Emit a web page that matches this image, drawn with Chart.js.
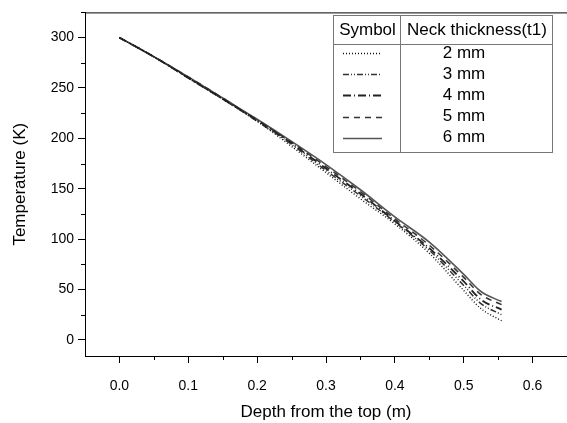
<!DOCTYPE html>
<html>
<head>
<meta charset="utf-8">
<script src="https://cdn.jsdelivr.net/npm/chart.js@4/dist/chart.umd.min.js"></script>
<style>
  html, body { margin: 0; padding: 0; background: #fff; }
  #wrap { width: 567px; height: 423px; }
</style>
</head>
<body>
<div id="wrap"><canvas id="grafico-temperatura"></canvas></div>
<script>
// Dados: profundidade (m) e temperatura (K) para cada espessura do pescoço
const profundidade = [0, 0.05, 0.1, 0.15, 0.2, 0.25, 0.3, 0.35, 0.4, 0.45, 0.5, 0.525, 0.555];
const temp_2mm = [300, 281, 260, 239, 217, 192, 166, 140, 115, 86, 49, 31, 19];
const temp_3mm = [300, 281, 260, 239, 217, 194, 168, 143, 117, 89, 54, 36, 25];
const temp_4mm = [300, 281, 260, 239, 218, 195, 170, 145, 118, 91, 58, 40, 30];
const temp_5mm = [300, 281, 261, 240, 218, 196, 172, 147, 120, 94, 62, 45, 35];
const temp_6mm = [300, 281, 261, 240, 219, 197, 174, 149, 122, 97, 65, 48, 38];

const legendas = ['2 mm', '3 mm', '4 mm', '5 mm', '6 mm'];
const x_ticks = [0, 0.1, 0.2, 0.3, 0.4, 0.5, 0.6];
const x_minor = [0.05, 0.15, 0.25, 0.35, 0.45, 0.55, 0.65];
const y_ticks = [0, 50, 100, 150, 200, 250, 300];
const y_minor = [25, 75, 125, 175, 225, 275, 325];

// estilos das linhas
const estilos = [
    { cor: '#111', dash: [1, 2], largura: 1.4 },
    { cor: '#333', dash: [6, 2, 1, 2, 1, 2], largura: 1.5 },
    { cor: '#222', dash: [8, 3, 1, 3], largura: 1.8 },
    { cor: '#333', dash: [6, 5], largura: 1.5 },
    { cor: '#555', dash: [], largura: 1.6 }
];

const series = [temp_2mm, temp_3mm, temp_4mm, temp_5mm, temp_6mm];

const datasets = series.map(function(valores, i) {
    return {
        label: legendas[i],
        data: profundidade.map(function(x, j) { return { x: x, y: valores[j] }; }),
        borderColor: estilos[i].cor,
        borderDash: estilos[i].dash,
        borderWidth: estilos[i].largura,
        pointRadius: 0,
        fill: false,
        cubicInterpolationMode: 'monotone'
    };
});

const fonte = "Arial, 'Liberation Sans', sans-serif";

// Ticks menores, moldura superior e tabela de legenda
const plugin_extra = {
    id: 'extra',
    afterDraw: function(chart) {
        const ctx = chart.ctx;
        const area = chart.chartArea;
        const xs = chart.scales.x;
        const ys = chart.scales.y;
        ctx.save();
        ctx.strokeStyle = '#000';
        ctx.lineWidth = 1;
        ctx.setLineDash([]);
        // moldura superior
        ctx.beginPath();
        ctx.moveTo(area.left, area.top + 0.5);
        ctx.lineTo(area.right, area.top + 0.5);
        ctx.stroke();
        // ticks menores
        ctx.beginPath();
        x_minor.forEach(function(v) {
            const px = Math.round(xs.getPixelForValue(v)) + 0.5;
            if (px > area.right) return;
            ctx.moveTo(px, area.bottom);
            ctx.lineTo(px, area.bottom + 4);
        });
        y_minor.forEach(function(v) {
            const py = Math.round(ys.getPixelForValue(v)) + 0.5;
            if (py < area.top) return;
            ctx.moveTo(area.left, py);
            ctx.lineTo(area.left - 4, py);
        });
        ctx.stroke();

        // tabela de legenda
        const L = 333, R = 552, T = 15, B = 152, D = 400, H = 44;
        ctx.fillStyle = '#fff';
        ctx.fillRect(L, T, R - L, B - T);
        ctx.strokeStyle = '#777';
        ctx.strokeRect(L + 0.5, T + 0.5, R - L, B - T);
        ctx.beginPath();
        ctx.moveTo(L, H + 0.5); ctx.lineTo(R, H + 0.5);
        ctx.moveTo(D + 0.5, T); ctx.lineTo(D + 0.5, B);
        ctx.stroke();

        ctx.fillStyle = '#000';
        ctx.font = '17px ' + fonte;
        ctx.textBaseline = 'middle';
        ctx.textAlign = 'center';
        ctx.fillText('Symbol', (L + D) / 2 + 1, 30);
        ctx.fillText('Neck thickness(t1)', (D + R) / 2 + 1, 30);

        chart.data.datasets.forEach(function(ds, i) {
            const yy = 53 + i * 21.2;
            ctx.save();
            ctx.strokeStyle = ds.borderColor;
            ctx.lineWidth = ds.borderWidth;
            ctx.setLineDash(ds.borderDash);
            ctx.beginPath();
            ctx.moveTo(343, Math.round(yy) + 0.5);
            ctx.lineTo(382, Math.round(yy) + 0.5);
            ctx.stroke();
            ctx.restore();
            ctx.fillText(ds.label, 464, yy);
        });
        ctx.restore();
    }
};

const ctx_temp = document.getElementById('grafico-temperatura').getContext('2d');

const grafico_temp = new Chart(ctx_temp, {
    type: 'line',
    data: { datasets: datasets },
    options: {
        responsive: true,
        maintainAspectRatio: false,
        animation: false,
        layout: { padding: { top: 7, right: 0, left: 0, bottom: 0 } },
        plugins: {
            legend: { display: false },
            tooltip: { enabled: false }
        },
        scales: {
            x: {
                type: 'linear',
                min: -0.05,
                max: 0.65,
                afterFit: function(scale) { scale.height = 67; },
                afterBuildTicks: function(scale) {
                    scale.ticks = x_ticks.map(function(v) { return { value: v }; });
                },
                ticks: {
                    color: '#000',
                    font: { size: 14, family: fonte },
                    padding: 15,
                    maxRotation: 0,
                    callback: function(v) { return Number(v).toFixed(1); }
                },
                grid: {
                    drawOnChartArea: false,
                    drawTicks: true,
                    tickLength: 7,
                    tickColor: '#000'
                },
                border: { display: true, color: '#000', width: 1 },
                title: {
                    display: true,
                    text: 'Depth from the top (m)',
                    color: '#000',
                    font: { size: 17, family: fonte },
                    padding: { top: 0, bottom: 0 }
                }
            },
            y: {
                type: 'linear',
                min: -16,
                max: 325,
                afterFit: function(scale) { scale.width = 85; },
                afterBuildTicks: function(scale) {
                    scale.ticks = y_ticks.map(function(v) { return { value: v }; });
                },
                ticks: {
                    color: '#000',
                    font: { size: 14, family: fonte },
                    padding: 4
                },
                grid: {
                    drawOnChartArea: false,
                    drawTicks: true,
                    tickLength: 7,
                    tickColor: '#000'
                },
                border: { display: true, color: '#000', width: 1 },
                title: {
                    display: true,
                    text: 'Temperature (K)',
                    color: '#000',
                    font: { size: 17, family: fonte },
                    padding: { top: 10, bottom: 0 }
                }
            }
        }
    },
    plugins: [plugin_extra]
});
</script>
</body>
</html>
